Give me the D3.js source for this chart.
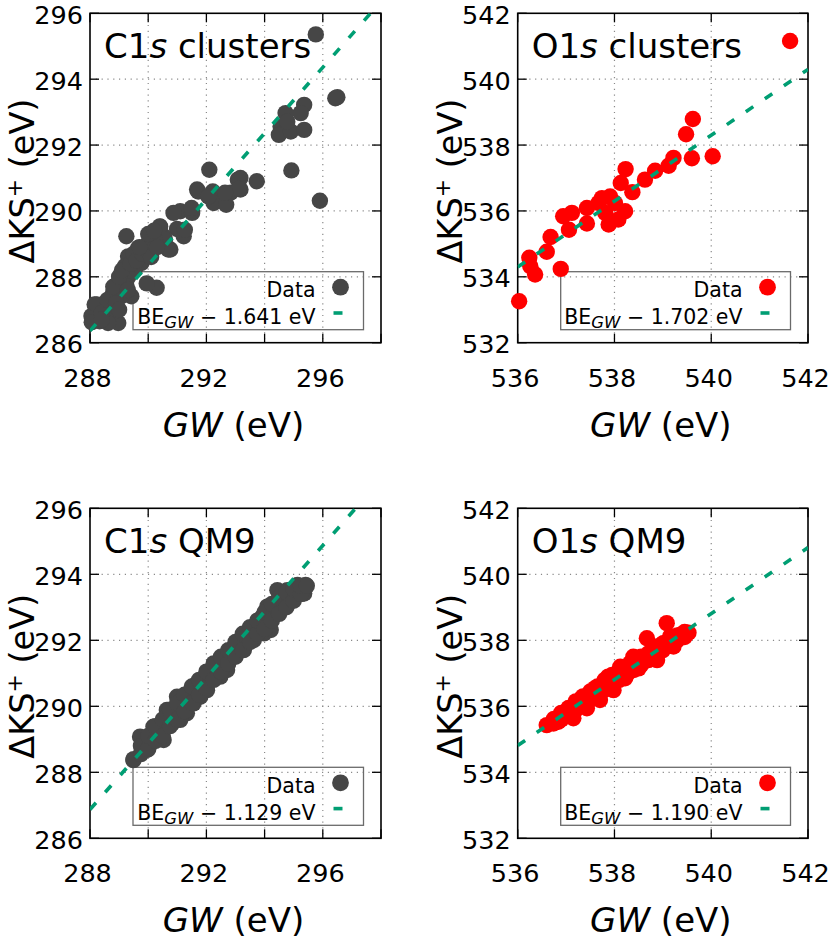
<!DOCTYPE html>
<html><head><meta charset="utf-8">
<script src="https://cdn.jsdelivr.net/npm/d3@7"></script>
<style>body{margin:0;background:#fff} text{font-family:"DejaVu Sans",sans-serif;fill:#000}</style>
</head><body><svg id="c" width="830" height="943" xmlns="http://www.w3.org/2000/svg"></svg>
<script>
// ---------- data (GW binding energy, ΔKS+ binding energy), eV ----------
const c1ClustersGW = [295.76,296.43,296.5,294.92,295.9,293.73,292.10,295.36,295.24,294.72,294.55,294.49,294.9,295.36,294.78,293.17,293.17,291.68,292.22,292.25,292.68,292.83,293.08,293.11,291.72,292.07,292.64,291.1,291.51,290.87,290.99,291.22,291.49,291.26,290.41,290.53,290.76,290.4,290.58,290.69,290.23,290.0,289.66,289.89,289.31,289.2,289.54,289.77,289.31,289.25,289.42,289.08,288.97,288.79,289.25,290.29,289.95,288.16,288.05,288.97,288.73,288.51,288.62,288.33,288.06,288.23,
  288.4,288.6,288.8,288.9,289.0,289.1,289.4,289.5,289.6,289.8,290.1,290.3,289.3,289.0,288.4,289.7,290.0,290.2];
const c1ClustersKS = [295.36,293.42,293.45,291.23,290.31,290.9,291.25,293.22,292.97,292.97,292.56,292.31,292.41,292.46,292.71,291.0,290.65,290.65,290.59,290.24,290.19,290.55,290.95,290.67,290.59,290.44,290.55,289.99,289.94,289.94,289.45,289.23,290.09,289.43,289.52,289.23,288.83,289.53,289.13,288.83,289.13,289.03,288.88,288.62,288.62,288.32,288.22,288.42,287.99,287.72,287.41,287.41,287.82,287.52,289.23,287.67,287.8,287.16,286.81,286.6,286.86,287.11,286.6,286.65,286.62,287.16,
  286.9,287.3,287.7,287.2,288.0,288.2,288.4,288.7,288.5,288.7,288.6,288.9,287.6,287.0,286.7,288.9,289.3,289.4];

const o1ClustersGW = [541.63,536.03,536.89,536.24,536.26,536.36,536.6,536.68,536.94,537.06,537.12,537.43,537.43,537.67,537.74,537.91,537.81,537.88,538.08,538.22,538.13,538.23,538.37,538.63,538.84,539.12,539.22,539.48,539.62,539.6,540.03,538.01];
const o1ClustersKS = [541.16,533.26,534.24,534.58,534.32,534.07,534.76,535.21,535.84,535.43,535.94,536.09,535.62,536.24,536.39,536.44,535.94,535.59,535.74,535.99,536.85,537.27,536.57,536.95,537.22,537.37,537.61,538.33,538.79,537.6,537.66,536.24];

const c1Qm9GW = [289.49,289.78,290.07,290.18,290.41,290.64,290.82,290.53,291.16,291.33,291.62,291.79,292.14,292.37,292.48,292.83,293.06,293.29,293.34,293.75,293.92,294.21,294.09,294.32,294.44,294.67,294.95,295.13,295.41,295.36,294.78,289.72,291.1,291.56,292.02,292.71,293.63,293.98,290.99,289.95,
  289.5,289.75,289.75,290.0,290.0,290.25,290.25,290.5,290.5,290.75,290.75,291.0,291.0,291.25,291.25,291.5,291.5,291.75,291.75,292.0,292.0,292.25,292.25,292.5,292.5,292.75,292.75,293.0,293.0,293.25,293.25,293.5,293.5,293.75,293.75,294.0,294.0,294.25,294.25,294.5,294.5,294.75,294.75,295.0,295.0,295.25,295.25,295.45];
const c1Qm9KS = [288.37,288.62,288.88,289.38,289.08,289.89,289.48,288.98,290.09,289.79,290.65,290.29,290.9,291.3,290.9,291.61,291.91,291.71,292.21,292.41,292.71,292.31,293.02,292.82,293.52,293.22,293.27,293.68,293.68,293.42,293.52,289.08,289.59,290.09,290.49,291.1,292.01,292.21,290.29,288.68,
  288.4,288.55,288.8,288.7,289.1,288.95,289.4,289.1,289.6,289.4,289.9,289.6,290.1,289.85,290.35,290.1,290.6,290.35,290.8,290.55,291.05,290.8,291.3,291.05,291.5,291.3,291.7,291.5,291.95,291.7,292.2,291.95,292.4,292.2,292.6,292.35,292.85,292.6,293.1,292.8,293.3,293.0,293.45,293.2,293.55,293.4,293.65,293.65];

const o1Qm9GW = [536.6,536.84,536.88,537.08,537.15,537.32,537.43,537.6,537.7,537.87,537.98,538.12,538.22,538.39,538.5,538.67,538.74,538.88,539.01,539.08,539.22,539.36,539.53,539.15,537.22,537.77,538.32,538.88,536.74,537.5,538.05,538.6,
  536.75,536.75,536.9,536.9,537.05,537.05,537.2,537.2,537.35,537.35,537.5,537.5,537.65,537.65,537.8,537.8,537.95,537.95,538.1,538.1,538.25,538.25,538.4,538.4,538.55,538.55,538.7,538.7,538.85,538.85,539.0,539.0,539.15,539.15,539.3,539.3,539.45,539.45];
const o1Qm9KS = [535.43,535.53,535.68,535.89,535.64,536.24,535.94,536.55,536.19,536.9,536.49,537.2,536.85,537.5,537.15,538.06,537.55,537.4,537.91,538.52,537.81,538.16,538.23,538.11,536.04,536.7,537.3,537.81,535.48,536.29,536.85,537.45,
  535.5,535.62,535.6,535.8,535.75,535.95,535.9,536.15,536.05,536.3,536.2,536.45,536.35,536.6,536.5,536.8,536.65,536.95,536.8,537.1,536.95,537.2,537.1,537.4,537.25,537.5,537.4,537.6,537.55,537.75,537.7,537.9,537.85,538.05,538.0,538.15,538.1,538.25];

// fitted offsets: ΔKS+ = BE_GW − shift
const fitShifts = [1.641, 1.702, 1.129, 1.190];
const shiftLabels = ["1.641", "1.702", "1.129", "1.190"];

// axis ticks / labels
const cDomain = [288, 298], cYDomain = [286, 296];
const oDomain = [536, 542], oYDomain = [532, 542];
const cXTickLabels = [288, 292, 296];
const oXTickLabels = [536, 538, 540, 542];
const cYTickLabels = [286, 288, 290, 292, 294, 296];
const oYTickLabels = [532, 534, 536, 538, 540, 542];

const titleMain = ["C1", "O1", "C1", "O1"];
const titleRest = [" clusters", " clusters", " QM9", " QM9"];

// ---------- layout ----------
const GRAY = "#464646", RED = "#ff0000", TEAL = "#009e73";
const boxes = [
  {l: 90, r: 381, t: 13.3, b: 342.7},
  {l: 517.7, r: 808, t: 13.3, b: 342.7},
  {l: 90, r: 381, t: 508.3, b: 838.3},
  {l: 517.7, r: 808, t: 508.3, b: 838.3}
];
const panels = [
  {gw: c1ClustersGW, ks: c1ClustersKS, xd: cDomain, yd: cYDomain, xl: cXTickLabels, yl: cYTickLabels, color: GRAY},
  {gw: o1ClustersGW, ks: o1ClustersKS, xd: oDomain, yd: oYDomain, xl: oXTickLabels, yl: oYTickLabels, color: RED},
  {gw: c1Qm9GW, ks: c1Qm9KS, xd: cDomain, yd: cYDomain, xl: cXTickLabels, yl: cYTickLabels, color: GRAY},
  {gw: o1Qm9GW, ks: o1Qm9KS, xd: oDomain, yd: oYDomain, xl: oXTickLabels, yl: oYTickLabels, color: RED}
];

const svg = d3.select("#c");
svg.append("rect").attr("width", 830).attr("height", 943).attr("fill", "#fff");
const defs = svg.append("defs");

panels.forEach((p, i) => {
  const bx = boxes[i];
  const x = d3.scaleLinear().domain(p.xd).range([bx.l, bx.r]);
  const y = d3.scaleLinear().domain(p.yd).range([bx.b, bx.t]);
  const g = svg.append("g");
  const xTicks = d3.range(p.xd[0], p.xd[1] + 0.001, 2);
  const yTicks = d3.range(p.yd[0], p.yd[1] + 0.001, 2);

  // grid
  xTicks.slice(1, -1).forEach(v => g.append("line").attr("x1", x(v)).attr("x2", x(v)).attr("y1", bx.t).attr("y2", bx.b)
    .attr("stroke", "#8a8a8a").attr("stroke-width", 1.2).attr("stroke-dasharray", "1.2,4.6"));
  yTicks.slice(1, -1).forEach(v => g.append("line").attr("y1", y(v)).attr("y2", y(v)).attr("x1", bx.l).attr("x2", bx.r)
    .attr("stroke", "#8a8a8a").attr("stroke-width", 1.2).attr("stroke-dasharray", "1.2,4.6"));

  // border & ticks
  g.append("rect").attr("x", bx.l).attr("y", bx.t).attr("width", bx.r - bx.l).attr("height", bx.b - bx.t)
    .attr("fill", "none").attr("stroke", "#000").attr("stroke-width", 1.6);
  const TL = 9;
  xTicks.forEach(v => {
    g.append("line").attr("x1", x(v)).attr("x2", x(v)).attr("y1", bx.b).attr("y2", bx.b - TL).attr("stroke", "#000").attr("stroke-width", 1.3);
    g.append("line").attr("x1", x(v)).attr("x2", x(v)).attr("y1", bx.t).attr("y2", bx.t + TL).attr("stroke", "#000").attr("stroke-width", 1.3);
  });
  yTicks.forEach(v => {
    g.append("line").attr("y1", y(v)).attr("y2", y(v)).attr("x1", bx.l).attr("x2", bx.l + TL).attr("stroke", "#000").attr("stroke-width", 1.3);
    g.append("line").attr("y1", y(v)).attr("y2", y(v)).attr("x1", bx.r).attr("x2", bx.r - TL).attr("stroke", "#000").attr("stroke-width", 1.3);
  });
  // tick labels
  p.xl.forEach(v => g.append("text").attr("x", x(v) - 2.5).attr("y", bx.b + 44).attr("text-anchor", "middle")
    .attr("font-size", 25.5).text(v));
  p.yl.forEach(v => g.append("text").attr("x", bx.l - 7).attr("y", y(v) + 10.5).attr("text-anchor", "end")
    .attr("font-size", 25.5).text(v));

  // legend box
  const lg = {l: bx.l + 43, r: bx.r - 17.5, t: bx.b - 71, b: bx.b - 13};
  g.append("rect").attr("x", lg.l).attr("y", lg.t).attr("width", lg.r - lg.l).attr("height", lg.b - lg.t)
    .attr("fill", "none").attr("stroke", "#6a6a6a").attr("stroke-width", 1.3);

  // points
  g.append("g").selectAll("circle").data(p.gw.map((v, k) => [v, p.ks[k]])).join("circle")
    .attr("cx", d => x(d[0])).attr("cy", d => y(d[1])).attr("r", 8.2).attr("fill", p.color);

  // fit line (clipped)
  const cid = "clip" + i;
  defs.append("clipPath").attr("id", cid).append("rect").attr("x", bx.l).attr("y", bx.t)
    .attr("width", bx.r - bx.l).attr("height", bx.b - bx.t);
  const s = fitShifts[i];
  const line = d3.line().x(d => x(d)).y(d => y(d - s));
  g.append("path").attr("d", line(p.xd)).attr("clip-path", `url(#${cid})`)
    .attr("fill", "none").attr("stroke", TEAL).attr("stroke-width", 3.6).attr("stroke-dasharray", "9,14");

  // legend content
  g.append("text").attr("x", lg.r - 48).attr("y", lg.t + 25.5).attr("text-anchor", "end").attr("font-size", 20.5).text("Data");
  g.append("circle").attr("cx", lg.r - 23).attr("cy", lg.t + 15.5).attr("r", 8.4).attr("fill", p.color);
  const lt = g.append("text").attr("x", lg.r - 48).attr("y", lg.t + 52.5).attr("text-anchor", "end").attr("font-size", 20.5);
  lt.append("tspan").text("BE");
  lt.append("tspan").attr("font-style", "italic").attr("font-size", 16.5).attr("dy", 4).text("GW");
  lt.append("tspan").attr("dy", -4).text(" \u2212 " + shiftLabels[i] + " eV");
  g.append("line").attr("x1", lg.r - 30).attr("x2", lg.r - 21).attr("y1", lg.t + 41.3).attr("y2", lg.t + 41.3)
    .attr("stroke", TEAL).attr("stroke-width", 3.6);

  // title
  const tt = g.append("text").attr("x", bx.l + 14).attr("y", bx.t + 45).attr("font-size", 34);
  tt.append("tspan").text(titleMain[i]);
  tt.append("tspan").attr("font-style", "italic").text("s");
  tt.append("tspan").text(titleRest[i]);

  // axis labels
  const xlab = g.append("text").attr("x", (bx.l + bx.r) / 2 - 2).attr("y", bx.b + 94).attr("text-anchor", "middle").attr("font-size", 34);
  xlab.append("tspan").attr("font-style", "italic").text("GW");
  xlab.append("tspan").text(" (eV)");
  const ylab = g.append("text").attr("transform", `translate(${bx.l - 56},${(bx.t + bx.b) / 2 + 3}) rotate(-90)`)
    .attr("text-anchor", "middle").attr("font-size", 33.5);
  ylab.append("tspan").text("\u0394KS");
  ylab.append("tspan").attr("font-size", 22).attr("dy", -12).text("+");
  ylab.append("tspan").attr("dy", 12).text(" (eV)");
});
</script></body></html>
